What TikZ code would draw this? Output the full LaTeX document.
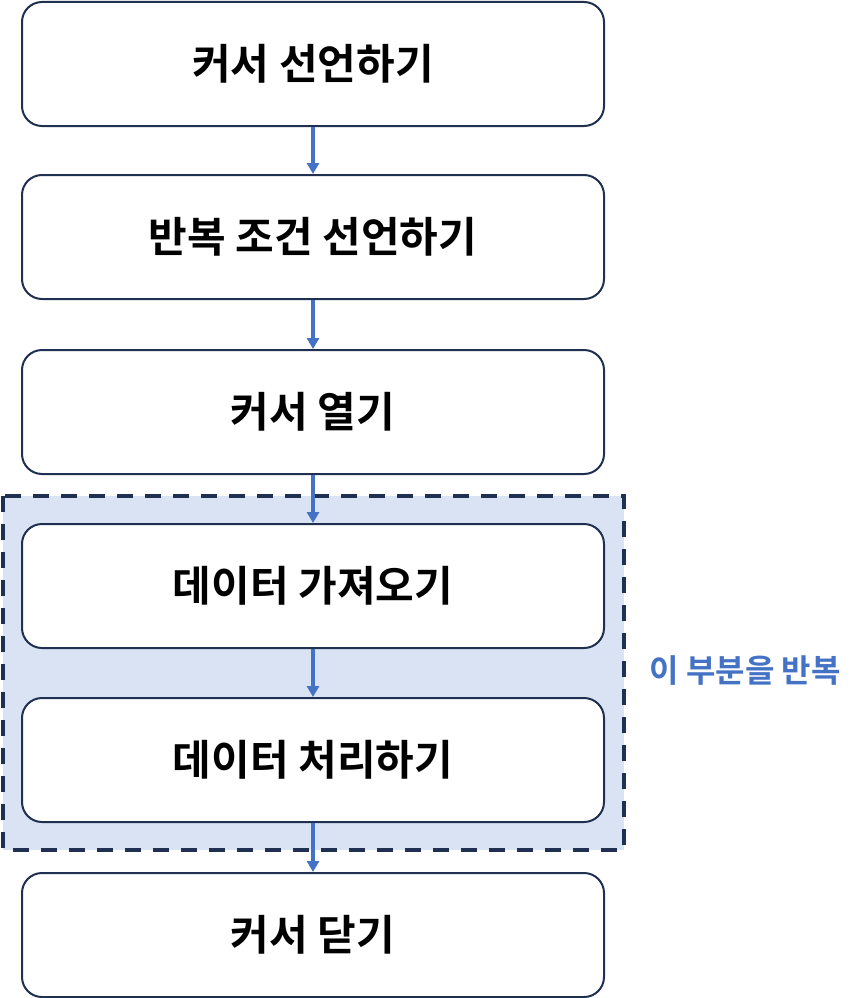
\documentclass[tikz,border=0pt]{standalone}
\usepackage{fontspec}
\setmainfont{Noto Sans CJK KR}[BoldFont={* Bold}]
\usetikzlibrary{arrows.meta,positioning}
\definecolor{boxline}{HTML}{1F3050}
\definecolor{flowblue}{HTML}{4472C4}
\definecolor{loopfill}{HTML}{DAE3F3}

\begin{document}
\begin{tikzpicture}[x=1pt,y=-1pt,
    stepbox/.style={draw=boxline,line width=2pt,rounded corners=20pt,fill=white,
      minimum width=582pt,minimum height=124pt,font=\fontsize{42}{48}\selectfont\bfseries},
    flow/.style={draw=flowblue,line width=3.5pt,-{Triangle[width=12pt,length=11pt]}}]
       \useasboundingbox (0,0) rectangle (867,998);

       % repeated part
       \draw[fill=loopfill,draw=boxline,line width=3.5pt,dash pattern=on 16pt off 12pt]
            (3,496) rectangle (624,850);
       \node[text=flowblue,font=\fontsize{32}{38}\selectfont\bfseries,anchor=west] (rep) at (646,671) {이 부분을 반복};

       \node[stepbox] (decl) at (313,64) {커서 선언하기};
       \node[stepbox] (cond) at (313,237) {반복 조건 선언하기};
       \node[stepbox] (open) at (313,412) {커서 열기};
       \node[stepbox] (fetch) at (313,586) {데이터 가져오기};
       \node[stepbox] (proc) at (313,760) {데이터 처리하기};
       \node[stepbox] (close) at (313,935) {커서 닫기};

       \draw[flow] (decl) -- (cond);
       \draw[flow] (cond) -- (open);
       \draw[flow] (open) -- (fetch);
       \draw[flow] (fetch) -- (proc);
       \draw[flow] (proc) -- (close);
\end{tikzpicture}
\end{document}
